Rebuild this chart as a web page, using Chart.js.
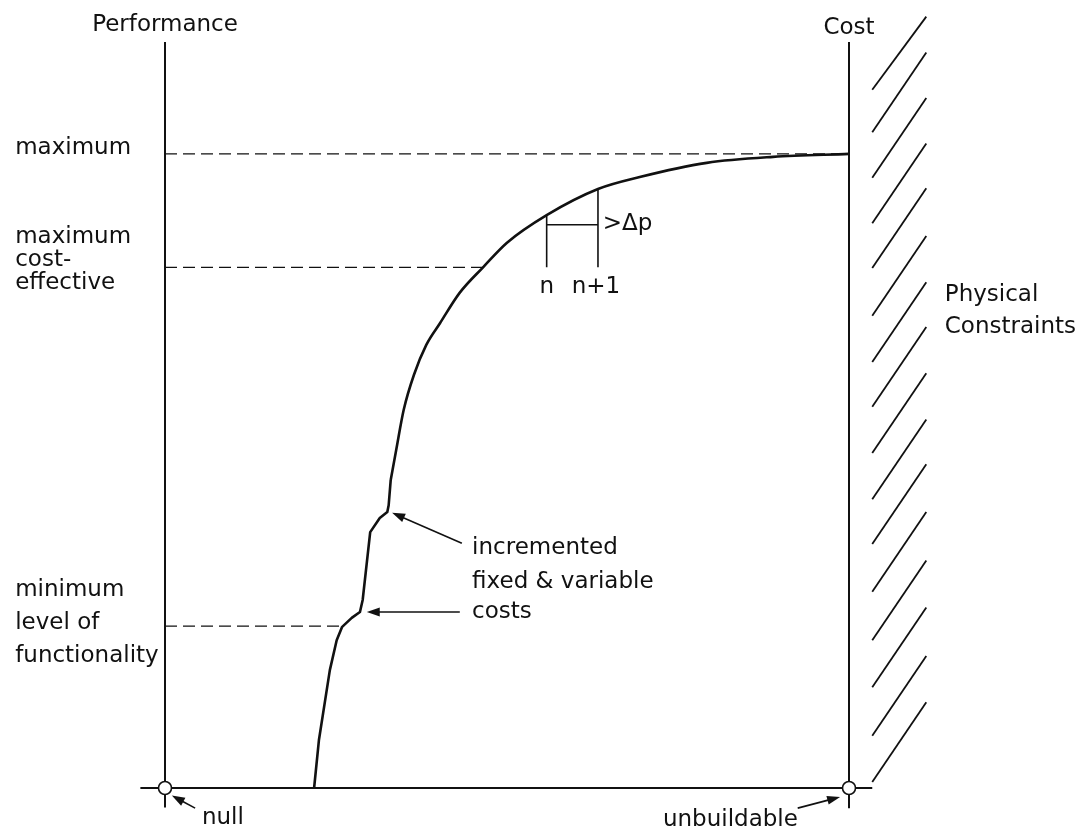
<!DOCTYPE html>
<html>
<head>
<meta charset="utf-8">
<script src="https://cdn.jsdelivr.net/npm/chart.js@4"></script>
<style>
html,body{margin:0;padding:0;background:#fff;}
canvas{display:block;}
</style>
</head>
<body>
<canvas id="c" width="1086" height="837"></canvas>
<script>
// Cost (x, 0..100) versus Performance (y, 0..100)
// lower, stepped part of the curve (sharp corners)
const lowCost = [21.8, 22.5, 24.1, 25.1, 25.9, 27.3, 28.5, 28.9, 30.0, 31.4, 32.5, 32.7, 33.0];
const lowPerf = [0, 6.4, 15.8, 19.8, 21.6, 22.8, 23.6, 25.2, 34.3, 36.2, 37.0, 37.9, 41.3];
// upper, smooth part of the curve
const highCost = [33.0, 33.8, 34.9, 36.4, 38.2, 40.2, 43.1, 46.5, 50.0, 55.8, 63.3, 69.4, 79.2, 88.9, 100];
const highPerf = [41.3, 45.3, 50.7, 55.4, 59.4, 62.3, 66.4, 69.8, 73.1, 76.8, 80.3, 81.9, 83.8, 84.6, 85.0];

const levelNames = [["maximum"], ["maximum", "cost-", "effective"], ["minimum", "level of", "functionality"]];
const levelPerf = [85.0, 69.8, 21.7];
const levelCost = [100, 46.5, 25.9];
const levelLabelY = [[85.8], [73.9, 70.8, 67.7], [26.5, 22.1, 17.7]];

const stepCost = [55.8, 63.3];
const stepPerf = [76.8, 80.3];
const stepBase = 69.8;
const stepBar = 75.5;

const hatchBottom = [93.6, 87.9, 81.8, 75.7, 69.7, 63.3, 57.1, 51.1, 44.9, 38.7, 32.7, 26.3, 19.8, 13.5, 7.0, 0.8];
const hatchTop = [103.4, 98.6, 92.5, 86.4, 80.4, 74.0, 67.8, 61.8, 55.6, 49.4, 43.4, 37.0, 30.5, 24.2, 17.7, 11.5];
const hatchX = [103.4, 111.3];

const textLabels = [
  {t: "Performance", x: 0, y: 102.3, a: "center"},
  {t: "Cost", x: 100, y: 101.9, a: "center"},
  {t: "n", x: 55.8, y: 67.2, a: "center"},
  {t: "n+1", x: 63.0, y: 67.2, a: "center"},
  {t: ">\u0394p", x: 64.0, y: 75.6, a: "left"},
  {t: "Physical", x: 114.0, y: 66.1, a: "left"},
  {t: "Constraints", x: 114.0, y: 61.8, a: "left"},
  {t: "incremented", x: 44.9, y: 32.2, a: "left"},
  {t: "fixed & variable", x: 44.9, y: 27.6, a: "left"},
  {t: "costs", x: 44.9, y: 23.6, a: "left"},
  {t: "null", x: 5.4, y: -4.0, a: "left"},
  {t: "unbuildable", x: 72.8, y: -4.3, a: "left"}
];
const labelX = -21.9;

const arrows = [
  {x1: 43.4, y1: 32.8, x2: 33.2, y2: 36.9},
  {x1: 43.1, y1: 23.6, x2: 29.5, y2: 23.6},
  {x1: 4.4, y1: -2.7, x2: 1.0, y2: -1.0},
  {x1: 92.5, y1: -2.7, x2: 98.7, y2: -1.2}
];

const FONT = '23px "DejaVu Sans"';
const INK = '#111';

function seg(data, opts) {
  return Object.assign({
    type: 'scatter', data: data, showLine: true, pointRadius: 0, pointHoverRadius: 0,
    borderColor: INK, borderWidth: 2, fill: false, clip: false, tension: 0, order: 2
  }, opts || {});
}

const datasets = [];
// axes
datasets.push(seg([{x: 0, y: 100}, {x: 0, y: -2.6}], {borderWidth: 2}));
datasets.push(seg([{x: 100, y: 100}, {x: 100, y: -2.7}], {borderWidth: 2}));
datasets.push(seg([{x: -3.6, y: 0}, {x: 103.4, y: 0}], {borderWidth: 1.8}));
// dashed level lines
levelPerf.forEach((p, i) => {
  datasets.push(seg([{x: 0, y: p}, {x: levelCost[i], y: p}], {borderWidth: 1.2, borderDash: [12, 6]}));
});
// curve
datasets.push(seg(lowCost.map((c, i) => ({x: c, y: lowPerf[i]})), {borderWidth: 2.6, borderJoinStyle: 'round'}));
datasets.push(seg(highCost.map((c, i) => ({x: c, y: highPerf[i]})), {borderWidth: 2.6, cubicInterpolationMode: 'monotone'}));
// n, n+1 step
datasets.push(seg([{x: stepCost[0], y: stepPerf[0]}, {x: stepCost[0], y: stepBase}], {borderWidth: 1.6}));
datasets.push(seg([{x: stepCost[1], y: stepPerf[1]}, {x: stepCost[1], y: stepBase}], {borderWidth: 1.6}));
datasets.push(seg([{x: stepCost[0], y: stepBar}, {x: stepCost[1], y: stepBar}], {borderWidth: 1.6}));
// hatching
hatchBottom.forEach((b, i) => {
  datasets.push(seg([{x: hatchX[0], y: b}, {x: hatchX[1], y: hatchTop[i]}], {borderWidth: 1.8}));
});
// null / unbuildable circles
datasets.push({
  type: 'scatter', data: [{x: 0, y: 0}, {x: 100, y: 0}], showLine: false,
  pointRadius: 6.5, pointHoverRadius: 6.5, pointBackgroundColor: '#fff', pointBorderColor: INK,
  pointBorderWidth: 1.6, clip: false, order: 0
});

const annot = {
  id: 'annot',
  afterDatasetsDraw(chart) {
    const ctx = chart.ctx, xs = chart.scales.x, ys = chart.scales.y;
    ctx.save();
    ctx.fillStyle = INK;
    ctx.font = FONT;
    ctx.textBaseline = 'middle';
    levelNames.forEach((lines, i) => {
      lines.forEach((t, j) => {
        ctx.textAlign = 'left';
        ctx.fillText(t, xs.getPixelForValue(labelX), ys.getPixelForValue(levelLabelY[i][j]));
      });
    });
    textLabels.forEach(l => {
      ctx.textAlign = l.a;
      ctx.fillText(l.t, xs.getPixelForValue(l.x), ys.getPixelForValue(l.y));
    });
    ctx.strokeStyle = INK;
    ctx.lineWidth = 1.6;
    arrows.forEach(a => {
      const x1 = xs.getPixelForValue(a.x1), y1 = ys.getPixelForValue(a.y1);
      const x2 = xs.getPixelForValue(a.x2), y2 = ys.getPixelForValue(a.y2);
      const ang = Math.atan2(y2 - y1, x2 - x1);
      const L = 13, W = 4.5;
      ctx.beginPath();
      ctx.moveTo(x1, y1);
      ctx.lineTo(x2 - Math.cos(ang) * L * 0.8, y2 - Math.sin(ang) * L * 0.8);
      ctx.stroke();
      ctx.beginPath();
      ctx.moveTo(x2, y2);
      ctx.lineTo(x2 - Math.cos(ang) * L - Math.sin(ang) * W, y2 - Math.sin(ang) * L + Math.cos(ang) * W);
      ctx.lineTo(x2 - Math.cos(ang) * L + Math.sin(ang) * W, y2 - Math.sin(ang) * L - Math.cos(ang) * W);
      ctx.closePath();
      ctx.fill();
    });
    ctx.restore();
  }
};

new Chart(document.getElementById('c'), {
  type: 'scatter',
  data: {datasets: datasets},
  options: {
    responsive: false,
    animation: false,
    events: [],
    layout: {padding: {left: 165, right: 237, top: 42, bottom: 49}},
    plugins: {legend: {display: false}, tooltip: {enabled: false}, title: {display: false}},
    scales: {
      x: {type: 'linear', min: 0, max: 100, display: false},
      y: {type: 'linear', min: 0, max: 100, display: false}
    }
  },
  plugins: [annot]
});
</script>
</body>
</html>
